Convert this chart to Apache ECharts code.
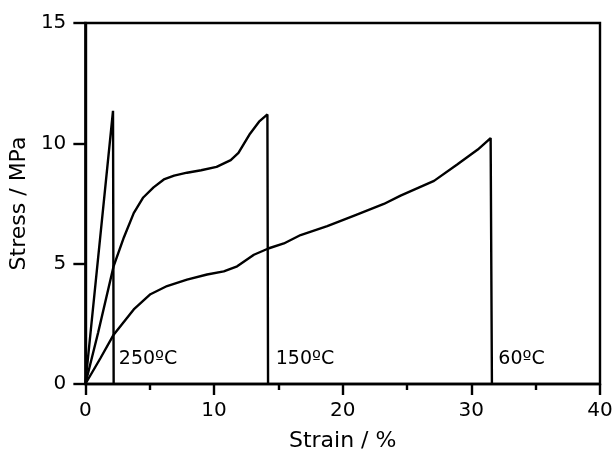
<!DOCTYPE html>
<html>
<head>
<meta charset="utf-8">
<script src="https://cdn.jsdelivr.net/npm/echarts@6/dist/echarts.min.js"></script>
<style>
  html, body { margin: 0; padding: 0; background: #fff; }
  #chart { width: 616px; height: 457px; }
</style>
</head>
<body>
<div id="chart"></div>
<script>
// strain (%) / stress (MPa) pairs
const curve250 = [[0, 0], [2.15, 11.35], [2.2, 0]];
const curve150 = [
    [0, 0], [1, 2.15], [2.2, 4.9], [3, 6.1], [3.76, 7.1], [4.5, 7.75], [5.3, 8.17],
    [6.1, 8.5], [6.9, 8.66], [7.9, 8.78], [9, 8.88], [10.2, 9.02], [11.3, 9.3],
    [11.9, 9.6], [12.8, 10.4], [13.5, 10.9], [14.15, 11.2], [14.2, 0]
];
const curve60 = [
    [0, 0], [1.17, 1.07], [2.2, 2.05], [3.76, 3.1], [5.06, 3.73], [6.35, 4.07],
    [7.9, 4.34], [9.46, 4.55], [10.76, 4.68], [11.8, 4.89], [13.1, 5.37],
    [14.27, 5.64], [15.43, 5.84], [16.73, 6.19], [18.8, 6.56], [20.9, 7.0],
    [23.2, 7.48], [24.5, 7.83], [27.1, 8.44], [28.9, 9.12], [30.5, 9.74],
    [31.5, 10.22], [31.6, 0]
];
const tempLabels = [
    [2.6, 1.05, "250ºC"],
    [14.8, 1.05, "150ºC"],
    [32.1, 1.05, "60ºC"]
];

const chart = echarts.init(document.getElementById("chart"));
const font = "DejaVu Sans";
const ink = "#000";

const lineSeries = function(data) {
    return {
        type: "line",
        data: data,
        symbol: "none",
        lineStyle: { color: ink, width: 2.4 },
        animation: false
    };
};

chart.setOption({
    animation: false,
    grid: {
        left: 85,
        right: 16,
        top: 23,
        bottom: 68,
        show: true,
        borderColor: ink,
        borderWidth: 2.4
    },
    xAxis: {
        type: "value",
        min: 0,
        max: 40,
        interval: 10,
        name: "Strain / %",
        nameLocation: "middle",
        nameGap: 46,
        nameTextStyle: { fontFamily: font, fontSize: 22, color: ink },
        axisLine: { lineStyle: { color: ink, width: 2.4 } },
        axisTick: { length: 11, lineStyle: { color: ink, width: 2.4 } },
        minorTick: { show: true, splitNumber: 2, length: 6, lineStyle: { color: ink, width: 2.4 } },
        axisLabel: { fontFamily: font, fontSize: 20, color: ink, margin: 17 },
        splitLine: { show: false }
    },
    yAxis: {
        type: "value",
        min: 0,
        max: 15,
        interval: 5,
        name: "Stress / MPa",
        nameLocation: "middle",
        nameGap: 51,
        nameTextStyle: { fontFamily: font, fontSize: 22, color: ink },
        axisLine: { lineStyle: { color: ink, width: 2.4 } },
        axisTick: { length: 12, lineStyle: { color: ink, width: 2.4 } },
        axisLabel: { fontFamily: font, fontSize: 20, color: ink, margin: 19 },
        splitLine: { show: false }
    },
    series: [
        lineSeries(curve250),
        lineSeries(curve150),
        lineSeries(curve60),
        {
            type: "scatter",
            data: tempLabels,
            symbolSize: 0,
            silent: true,
            itemStyle: { color: ink, opacity: 1 },
            label: {
                show: true,
                position: "right",
                distance: 0,
                formatter: function(p) { return p.data[2]; },
                fontFamily: font,
                fontSize: 19,
                color: ink,
                opacity: 1
            }
        }
    ]
});
</script>
</body>
</html>
